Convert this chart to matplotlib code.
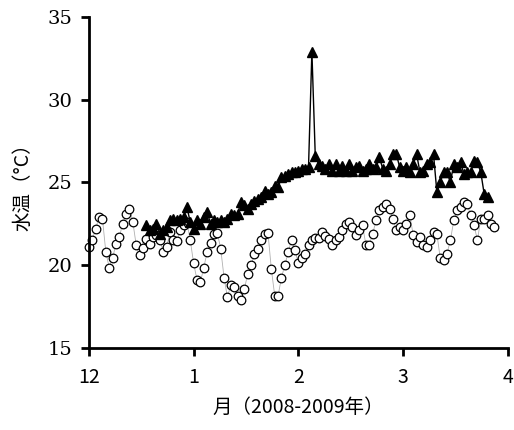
import numpy as np
import matplotlib
matplotlib.use("Agg")
import matplotlib.pyplot as plt

plt.rcParams['font.family'] = ['Noto Sans CJK JP', 'DejaVu Sans']

# circle series: daily from Dec 1 (day 0)
circle_start = 0
circle_vals = [
    21.1, 21.5, 22.2, 22.9, 22.8, 20.8, 19.85, 20.4, 21.3, 21.7,
    22.5, 23.1, 23.4, 22.6, 21.2, 20.6, 21.05, 21.6, 21.3, 21.7,
    21.8, 21.5, 20.8, 21.1, 22.0, 21.5, 21.45, 22.1, 22.4, 22.6,
    21.5, 20.1, 19.1, 18.97, 19.85, 20.8, 21.35, 21.85, 21.95, 21.0,
    19.25, 18.05, 18.8, 18.65, 18.15, 17.9, 18.55, 19.45, 20.0, 20.65,
    21.0, 21.5, 21.9, 21.95, 19.75, 18.15, 18.15, 19.25, 20.0, 20.8,
    21.5, 20.9, 20.1, 20.4, 20.7, 21.2, 21.5, 21.65, 21.65, 22.0,
    21.75, 21.6, 21.2, 21.5, 21.7, 22.1, 22.5, 22.6, 22.3, 21.8,
    22.1, 22.4, 21.2, 21.2, 21.9, 22.7, 23.3, 23.5, 23.7, 23.4,
    22.8, 22.1, 22.3, 22.1, 22.5, 23.0, 21.8, 21.4, 21.7, 21.2,
    21.1, 21.5, 22.0, 21.9, 20.4, 20.3, 20.7, 21.5, 22.7, 23.3,
    23.5, 23.8, 23.7, 23.0, 22.4, 21.5, 22.8, 22.8, 23.0, 22.5,
    22.3,
]

# triangle series: daily from Dec 18 (day 17)
tri_start = 17
tri_vals = [
    22.4, 22.1, 22.2, 22.5, 21.9, 22.1, 22.3, 22.7, 22.8, 22.7,
    22.8, 22.9, 23.5, 22.6, 22.2, 22.7, 22.5, 22.9, 23.2, 22.5,
    22.7, 22.6, 22.7, 22.6, 22.8, 23.1, 23.0, 23.1, 23.8, 23.6,
    23.4, 23.7, 23.9, 24.0, 24.1, 24.5, 24.3, 24.4, 24.8, 24.7,
    25.3, 25.4, 25.5, 25.6, 25.6, 25.7, 25.8, 25.8, 25.9, 32.9,
    26.6, 26.1, 26.0, 25.8, 26.1, 25.7, 26.1, 25.7, 26.0, 25.7,
    26.1, 25.7, 25.9, 26.0, 25.7, 25.8, 26.1, 25.8, 25.9, 26.5,
    25.8, 25.7, 26.1, 26.7, 26.7, 25.9, 25.7, 25.9, 25.6, 26.1,
    26.7, 25.6, 25.7, 26.1, 26.2, 26.7, 24.4, 25.0, 25.6, 25.6,
    25.0, 26.1, 25.9, 26.2, 25.5, 25.6, 25.6, 26.3, 26.2, 25.6,
    24.3, 24.1,
]

month_ticks = [0, 31, 62, 93, 124]
month_labels = ['12', '1', '2', '3', '4']
y_ticks = [15, 20, 25, 30, 35]

cx = np.arange(len(circle_vals)) + circle_start
tx = np.arange(len(tri_vals)) + tri_start

fig = plt.figure(figsize=(5.14, 4.30), dpi=100)
ax = fig.add_axes([0.173, 0.191, 0.815, 0.770])

ax.plot(cx, circle_vals, color='#b0b0b0', lw=0.6, marker='o', ms=6.2,
        mfc='white', mec='black', mew=0.9, clip_on=False, zorder=2)
ax.plot(tx, tri_vals, color='black', lw=1.0, marker='^', ms=7.5,
        mfc='black', mec='black', clip_on=False, zorder=3)

ax.set_xlim(0, 124)
ax.set_ylim(15, 35)
ax.set_xticks(month_ticks)
ax.set_xticklabels(month_labels)
ax.set_yticks(y_ticks)

for s in ['top', 'right']:
    ax.spines[s].set_visible(False)
for s in ['left', 'bottom']:
    ax.spines[s].set_linewidth(2.0)
ax.tick_params(axis='both', direction='out', width=2.0, length=6)
ax.tick_params(axis='x', pad=8, labelsize=14)
ax.tick_params(axis='y', pad=6, labelsize=14, labelfontfamily='DejaVu Serif')

ax.set_xlabel('月（2008-2009年）', fontsize=14, labelpad=6)
ax.set_ylabel('水温（°C）', fontsize=14, labelpad=10)

fig.savefig('out.png', dpi=100)
